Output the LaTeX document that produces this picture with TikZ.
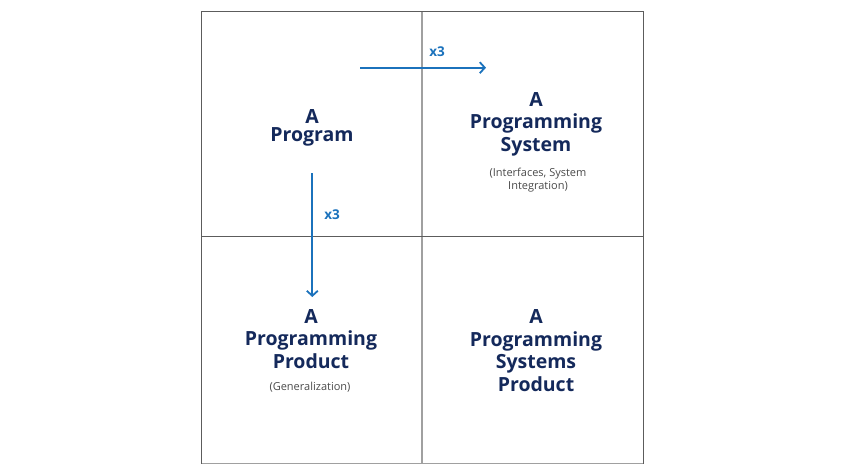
\documentclass[tikz,border=0pt]{standalone}
\usepackage{fontspec}
\setmainfont{Open Sans}
\usetikzlibrary{arrows.meta}
\definecolor{navy}{HTML}{14295B}
\definecolor{arrblue}{HTML}{1B72BC}
\definecolor{smallgray}{HTML}{4A4A4A}
\definecolor{darkline}{HTML}{5C5C5C}
\definecolor{lightline}{HTML}{A0A0A0}
\tikzset{
  title/.style={anchor=north, inner sep=0pt, align=center, text=navy,
    font=\fontsize{19.5}{22.5}\selectfont\bfseries},
  note/.style={anchor=base, inner sep=0pt, align=center, text=smallgray,
    font=\fontsize{11}{13}\selectfont},
  times/.style={anchor=base, inner sep=0pt, text=arrblue,
    font=\fontsize{13.5}{15}\selectfont\bfseries},
  flow/.style={draw=arrblue, line width=1.8pt, -{Straight Barb[length=5pt,width=11pt]}},
  darkedge/.style={draw=darkline, line width=1pt},
  lightedge/.style={draw=lightline, line width=1.2pt}
}
\begin{document}
\begin{tikzpicture}[x=1pt,y=-1pt]
\useasboundingbox (0,0) rectangle (845,475);
% grid
\coordinate (tl) at (201.5,11);
\coordinate (tr) at (643,11);
\coordinate (bl) at (201.5,463.5);
\coordinate (br) at (643,463.5);
\coordinate (mt) at (422,11);
\coordinate (mb) at (422,463.5);
\coordinate (ml) at (201.5,236.5);
\coordinate (mr) at (643,236.5);
\draw[lightedge] (mt) -- (mb);
\draw[lightedge] (bl) -- (br);
\draw[darkedge] (bl) -- (tl) -- (tr) -- (br);
\draw[darkedge] (ml) -- (mr);
% texts
\node[title, font=\fontsize{19.5}{18.5}\selectfont\bfseries] (prog) at (312,109) {A\\Program};
\node[title] (sys) at (536,92) {A\\Programming\\System};
\node[note] (sysnote) at (538,189) {(Interfaces, System\\Integration)};
\node[note] (prodnote) at (310,390.5) {(Generalization)};
\node[title] (prod) at (311,309) {A\\Programming\\Product};
\node[title] (sysprod) at (536,309.5) {A\\Programming\\Systems\\Product};
% arrows
\coordinate (h1) at (360,67.7);
\coordinate (h2) at (486,67.7);
\coordinate (v1) at (312.3,173);
\coordinate (v2) at (312.3,297);
\draw[flow] (h1) -- (h2);
\draw[flow] (v1) -- (v2);
\node[times] (hx) at (437,56) {x3};
\node[times] (vx) at (332,219) {x3};
\end{tikzpicture}
\end{document}
